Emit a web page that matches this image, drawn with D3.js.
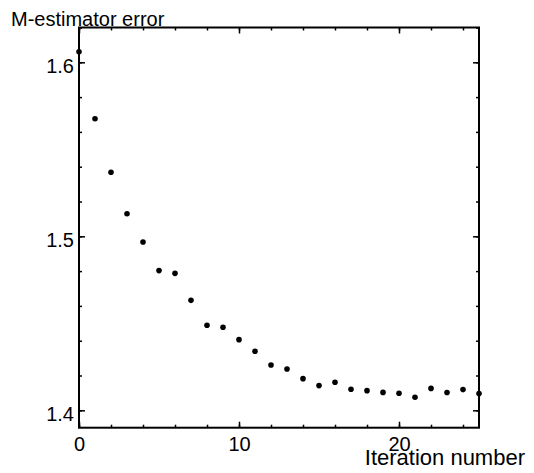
<!DOCTYPE html>
<html>
<head>
<meta charset="utf-8">
<script src="https://cdn.jsdelivr.net/npm/d3@7"></script>
<style>
  body { margin: 0; background: #fff; }
  svg { display: block; font-family: "Liberation Sans", Arial, sans-serif; }
</style>
</head>
<body>
<svg id="chart" width="534" height="473"></svg>
<script>
// iteration number vs M-estimator error
var iterations = d3.range(0, 26);
var errors = [1.606, 1.5676, 1.5368, 1.513, 1.4967, 1.4803, 1.4787, 1.4632, 1.4489, 1.4477,
    1.4406, 1.4339, 1.4260, 1.4237, 1.4182, 1.4142, 1.4161, 1.4121, 1.4113, 1.4103,
    1.4098, 1.4075, 1.4126, 1.4102, 1.4119, 1.4096];
var xMajor = [0, 10, 20];
var yMajor = [1.4, 1.5, 1.6];

var m = { left: 79, right: 479, top: 27.5, bottom: 427.7 };

var svg = d3.select("#chart");

var x = d3.scaleLinear().domain([0, 25]).range([m.left, m.right]);
var y = d3.scaleLinear().domain([1.39, 1.62]).range([m.bottom, m.top]);

var xMinor = d3.range(0, 26, 2);
var yMinor = d3.range(1.40, 1.621, 0.02);

// minor ticks, all four sides
svg.append("g").attr("transform", "translate(0," + m.bottom + ")")
    .call(d3.axisBottom(x).tickValues(xMinor).tickSize(-3).tickFormat(""));
svg.append("g").attr("transform", "translate(0," + m.top + ")")
    .call(d3.axisTop(x).tickValues(xMinor).tickSize(-3).tickFormat(""));
svg.append("g").attr("transform", "translate(" + m.left + ",0)")
    .call(d3.axisLeft(y).tickValues(yMinor).tickSize(-3).tickFormat(""));
svg.append("g").attr("transform", "translate(" + m.right + ",0)")
    .call(d3.axisRight(y).tickValues(yMinor).tickSize(-3).tickFormat(""));

// major ticks
var xb = svg.append("g").attr("transform", "translate(0," + m.bottom + ")")
    .call(d3.axisBottom(x).tickValues(xMajor).tickSize(-6).tickPadding(9).tickFormat(d3.format("d")));
svg.append("g").attr("transform", "translate(0," + m.top + ")")
    .call(d3.axisTop(x).tickValues(xMajor).tickSize(-6).tickFormat(""));
var yl = svg.append("g").attr("transform", "translate(" + m.left + ",0)")
    .call(d3.axisLeft(y).tickValues(yMajor).tickSize(-6).tickPadding(5).tickFormat(d3.format(".1f")));
svg.append("g").attr("transform", "translate(" + m.right + ",0)")
    .call(d3.axisRight(y).tickValues(yMajor).tickSize(-6).tickFormat(""));

svg.selectAll(".domain").remove();
svg.selectAll(".tick line").attr("stroke", "#000").attr("stroke-width", 1.5);
svg.selectAll(".tick text").attr("fill", "#000").style("font-size", "20px")
    .style("font-family", "'Liberation Sans', Arial, sans-serif");
yl.selectAll(".tick text").attr("dy", "0.5em");

// frame
svg.append("rect")
    .attr("x", m.left).attr("y", m.top)
    .attr("width", m.right - m.left).attr("height", m.bottom - m.top)
    .attr("fill", "none").attr("stroke", "#000").attr("stroke-width", 2);

// points
svg.selectAll(".pt")
    .data(iterations)
    .enter()
    .append("circle")
    .attr("class", "pt")
    .attr("cx", function (d) { return x(d); })
    .attr("cy", function (d, i) { return y(errors[i]); })
    .attr("r", 2.8)
    .attr("fill", "#000");

// axis titles
svg.append("text")
    .attr("x", 11).attr("y", 26)
    .style("font-size", "20px")
    .text("M-estimator error");

svg.append("text")
    .attr("x", 525).attr("y", 465)
    .attr("text-anchor", "end")
    .style("font-size", "22px")
    .text("Iteration number");
</script>
</body>
</html>
